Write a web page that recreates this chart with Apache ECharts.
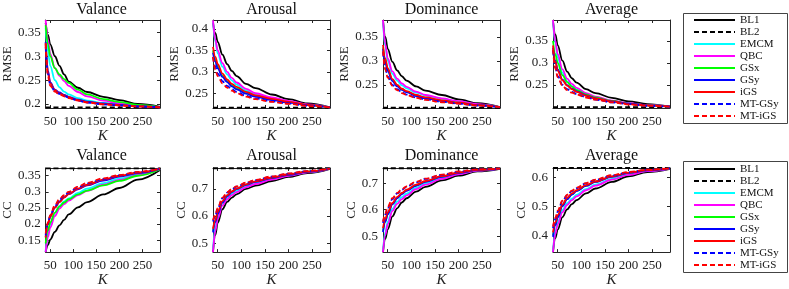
<!DOCTYPE html>
<html><head><meta charset="utf-8">
<script src="https://cdn.jsdelivr.net/npm/echarts@6/dist/echarts.min.js"></script>
<style>html,body{margin:0;padding:0;background:#fff}#c{width:789px;height:289px}</style>
</head><body><div id="c"></div>
<script>
// Number of labelled samples K (x values)
const K = [40, 45, 50, 60, 70, 80, 90, 110, 130, 165, 200, 240, 288];
const xTicks = [50, 100, 150, 200, 250];
const methods = ['BL1', 'BL2', 'EMCM', 'QBC', 'GSx', 'GSy', 'iGS', 'MT-GSy', 'MT-iGS'];
const colors = ['#000000', '#000000', '#00ffff', '#ff00ff', '#00ff00', '#0000ff', '#ff0000', '#0000ff', '#ff0000'];
const dashed = [false, true, false, false, false, false, false, true, true];
const titles = ['Valance', 'Arousal', 'Dominance', 'Average'];

// Each panel: rows in order BL1, EMCM, QBC, GSx, GSy, iGS, MT-GSy, MT-iGS
const valanceRMSE = [
  [0.370, 0.345, 0.325, 0.300, 0.280, 0.262, 0.247, 0.234, 0.225, 0.215, 0.208, 0.200, 0.194],
  [0.360, 0.310, 0.280, 0.250, 0.235, 0.226, 0.220, 0.212, 0.207, 0.202, 0.199, 0.196, 0.193],
  [0.376, 0.335, 0.305, 0.275, 0.259, 0.248, 0.238, 0.225, 0.216, 0.207, 0.201, 0.197, 0.193],
  [0.365, 0.325, 0.300, 0.275, 0.262, 0.252, 0.244, 0.230, 0.220, 0.210, 0.204, 0.198, 0.193],
  [0.330, 0.270, 0.245, 0.230, 0.224, 0.219, 0.215, 0.209, 0.205, 0.201, 0.198, 0.195, 0.193],
  [0.328, 0.265, 0.243, 0.229, 0.222, 0.218, 0.214, 0.208, 0.204, 0.200, 0.197, 0.195, 0.193],
  [0.320, 0.262, 0.240, 0.227, 0.221, 0.217, 0.213, 0.207, 0.203, 0.199, 0.197, 0.195, 0.193],
  [0.325, 0.258, 0.238, 0.226, 0.220, 0.216, 0.212, 0.207, 0.203, 0.199, 0.197, 0.195, 0.193]
];
const arousalRMSE = [
  [0.415, 0.390, 0.370, 0.340, 0.318, 0.302, 0.290, 0.272, 0.262, 0.247, 0.236, 0.226, 0.217],
  [0.418, 0.370, 0.343, 0.312, 0.294, 0.280, 0.270, 0.256, 0.247, 0.238, 0.230, 0.223, 0.217],
  [0.420, 0.375, 0.350, 0.320, 0.300, 0.286, 0.275, 0.260, 0.250, 0.240, 0.232, 0.224, 0.217],
  [0.350, 0.328, 0.312, 0.291, 0.278, 0.268, 0.261, 0.250, 0.243, 0.235, 0.229, 0.222, 0.217],
  [0.345, 0.324, 0.308, 0.288, 0.276, 0.266, 0.259, 0.249, 0.242, 0.234, 0.228, 0.222, 0.217],
  [0.358, 0.335, 0.318, 0.296, 0.282, 0.272, 0.265, 0.253, 0.245, 0.237, 0.230, 0.223, 0.217],
  [0.335, 0.312, 0.296, 0.278, 0.267, 0.259, 0.253, 0.244, 0.238, 0.231, 0.226, 0.221, 0.217],
  [0.335, 0.305, 0.290, 0.273, 0.263, 0.256, 0.250, 0.242, 0.236, 0.230, 0.225, 0.220, 0.217]
];
const dominanceRMSE = [
  [0.385, 0.350, 0.325, 0.298, 0.280, 0.268, 0.259, 0.247, 0.238, 0.229, 0.220, 0.212, 0.204],
  [0.383, 0.330, 0.300, 0.273, 0.259, 0.249, 0.243, 0.234, 0.228, 0.221, 0.215, 0.209, 0.204],
  [0.385, 0.335, 0.305, 0.278, 0.263, 0.253, 0.246, 0.236, 0.229, 0.222, 0.216, 0.210, 0.204],
  [0.328, 0.300, 0.281, 0.260, 0.249, 0.241, 0.236, 0.228, 0.223, 0.217, 0.213, 0.208, 0.204],
  [0.325, 0.297, 0.279, 0.258, 0.247, 0.240, 0.235, 0.227, 0.222, 0.217, 0.212, 0.208, 0.204],
  [0.333, 0.305, 0.285, 0.262, 0.250, 0.242, 0.237, 0.229, 0.224, 0.218, 0.213, 0.208, 0.204],
  [0.318, 0.285, 0.267, 0.250, 0.241, 0.235, 0.230, 0.224, 0.220, 0.215, 0.211, 0.207, 0.204],
  [0.320, 0.282, 0.265, 0.248, 0.239, 0.233, 0.229, 0.223, 0.219, 0.214, 0.211, 0.207, 0.204]
];
const averageRMSE = [
  [0.395, 0.365, 0.340, 0.305, 0.280, 0.265, 0.255, 0.240, 0.231, 0.220, 0.212, 0.206, 0.200],
  [0.396, 0.345, 0.312, 0.278, 0.258, 0.247, 0.239, 0.228, 0.221, 0.213, 0.207, 0.203, 0.200],
  [0.398, 0.350, 0.320, 0.285, 0.264, 0.252, 0.243, 0.231, 0.223, 0.214, 0.208, 0.204, 0.200],
  [0.350, 0.320, 0.300, 0.272, 0.256, 0.246, 0.238, 0.228, 0.221, 0.213, 0.207, 0.203, 0.200],
  [0.335, 0.305, 0.285, 0.262, 0.249, 0.241, 0.235, 0.226, 0.219, 0.212, 0.207, 0.203, 0.200],
  [0.340, 0.303, 0.282, 0.260, 0.248, 0.240, 0.234, 0.225, 0.219, 0.212, 0.206, 0.203, 0.200],
  [0.328, 0.290, 0.270, 0.250, 0.240, 0.234, 0.229, 0.222, 0.216, 0.210, 0.206, 0.202, 0.200],
  [0.330, 0.287, 0.267, 0.248, 0.238, 0.232, 0.228, 0.221, 0.216, 0.210, 0.205, 0.202, 0.200]
];
const valanceCC = [
  [0.113, 0.135, 0.152, 0.176, 0.196, 0.213, 0.230, 0.252, 0.268, 0.292, 0.312, 0.338, 0.368],
  [0.115, 0.170, 0.200, 0.235, 0.256, 0.270, 0.280, 0.297, 0.310, 0.327, 0.341, 0.355, 0.371],
  [0.113, 0.160, 0.190, 0.225, 0.248, 0.262, 0.273, 0.290, 0.303, 0.322, 0.337, 0.352, 0.370],
  [0.140, 0.180, 0.205, 0.235, 0.254, 0.267, 0.277, 0.292, 0.304, 0.320, 0.334, 0.350, 0.370],
  [0.160, 0.200, 0.225, 0.252, 0.270, 0.283, 0.293, 0.308, 0.320, 0.335, 0.347, 0.358, 0.371],
  [0.158, 0.200, 0.222, 0.250, 0.268, 0.282, 0.293, 0.310, 0.322, 0.338, 0.350, 0.360, 0.372],
  [0.165, 0.203, 0.226, 0.255, 0.275, 0.288, 0.298, 0.314, 0.326, 0.340, 0.351, 0.361, 0.372],
  [0.170, 0.205, 0.228, 0.258, 0.278, 0.290, 0.300, 0.316, 0.328, 0.342, 0.352, 0.362, 0.372]
];
const arousalCC = [
  [0.467, 0.530, 0.575, 0.625, 0.652, 0.668, 0.680, 0.700, 0.712, 0.729, 0.744, 0.758, 0.774],
  [0.475, 0.555, 0.600, 0.645, 0.668, 0.682, 0.693, 0.710, 0.721, 0.737, 0.750, 0.762, 0.775],
  [0.467, 0.545, 0.590, 0.638, 0.662, 0.677, 0.688, 0.706, 0.718, 0.734, 0.748, 0.761, 0.775],
  [0.545, 0.580, 0.610, 0.652, 0.675, 0.690, 0.700, 0.716, 0.727, 0.741, 0.753, 0.764, 0.775],
  [0.540, 0.578, 0.608, 0.650, 0.673, 0.688, 0.699, 0.715, 0.726, 0.740, 0.752, 0.763, 0.775],
  [0.553, 0.585, 0.615, 0.655, 0.677, 0.691, 0.701, 0.717, 0.728, 0.742, 0.754, 0.764, 0.775],
  [0.580, 0.602, 0.628, 0.665, 0.686, 0.699, 0.708, 0.722, 0.732, 0.745, 0.756, 0.765, 0.775],
  [0.585, 0.605, 0.630, 0.668, 0.688, 0.700, 0.709, 0.723, 0.733, 0.746, 0.757, 0.766, 0.775]
];
const dominanceCC = [
  [0.440, 0.490, 0.525, 0.575, 0.605, 0.627, 0.643, 0.668, 0.686, 0.710, 0.728, 0.744, 0.754],
  [0.445, 0.515, 0.555, 0.603, 0.630, 0.647, 0.660, 0.682, 0.698, 0.719, 0.735, 0.748, 0.755],
  [0.440, 0.505, 0.545, 0.595, 0.622, 0.640, 0.654, 0.677, 0.694, 0.716, 0.733, 0.747, 0.755],
  [0.520, 0.558, 0.585, 0.622, 0.645, 0.661, 0.673, 0.692, 0.706, 0.725, 0.739, 0.750, 0.755],
  [0.515, 0.554, 0.582, 0.620, 0.643, 0.659, 0.671, 0.690, 0.705, 0.724, 0.738, 0.749, 0.755],
  [0.530, 0.565, 0.590, 0.625, 0.648, 0.663, 0.675, 0.694, 0.708, 0.726, 0.740, 0.750, 0.755],
  [0.550, 0.582, 0.607, 0.640, 0.661, 0.675, 0.686, 0.703, 0.716, 0.731, 0.743, 0.752, 0.755],
  [0.555, 0.585, 0.610, 0.643, 0.663, 0.677, 0.688, 0.705, 0.717, 0.732, 0.744, 0.752, 0.755]
];
const averageCC = [
  [0.342, 0.390, 0.420, 0.463, 0.490, 0.508, 0.522, 0.545, 0.562, 0.585, 0.604, 0.619, 0.630],
  [0.345, 0.412, 0.445, 0.487, 0.511, 0.527, 0.540, 0.560, 0.575, 0.595, 0.611, 0.623, 0.631],
  [0.342, 0.405, 0.438, 0.480, 0.505, 0.522, 0.535, 0.556, 0.572, 0.593, 0.609, 0.622, 0.631],
  [0.400, 0.438, 0.465, 0.503, 0.527, 0.542, 0.554, 0.572, 0.586, 0.603, 0.616, 0.626, 0.632],
  [0.395, 0.435, 0.462, 0.501, 0.525, 0.541, 0.553, 0.571, 0.585, 0.602, 0.616, 0.625, 0.632],
  [0.410, 0.445, 0.470, 0.507, 0.530, 0.545, 0.556, 0.574, 0.587, 0.604, 0.617, 0.626, 0.632],
  [0.425, 0.457, 0.482, 0.518, 0.539, 0.553, 0.563, 0.580, 0.592, 0.607, 0.618, 0.627, 0.632],
  [0.430, 0.460, 0.485, 0.520, 0.541, 0.555, 0.565, 0.581, 0.593, 0.608, 0.619, 0.627, 0.632]
];
// BL2 constant baseline per panel
const bl2 = [0.193, 0.2165, 0.2025, 0.199, 0.373, 0.776, 0.756, 0.633];
const yMin = [0.1915, 0.2155, 0.202, 0.197, 0.113, 0.467, 0.44, 0.342];
const yMax = [0.376, 0.421, 0.385, 0.398, 0.374, 0.777, 0.757, 0.633];
const yTicks = [
  [0.2, 0.25, 0.3, 0.35], [0.25, 0.3, 0.35, 0.4], [0.25, 0.3, 0.35], [0.25, 0.3, 0.35],
  [0.15, 0.2, 0.25, 0.3, 0.35], [0.5, 0.6, 0.7], [0.5, 0.6, 0.7], [0.4, 0.5, 0.6]
];
const yNames = ['RMSE', 'RMSE', 'RMSE', 'RMSE', 'CC', 'CC', 'CC', 'CC'];
const panelData = [valanceRMSE, arousalRMSE, dominanceRMSE, averageRMSE, valanceCC, arousalCC, dominanceCC, averageCC];

// layout
const colLeft = [43, 213, 383, 553];
const plotW = 117;
const rowTop = [20, 168];
const rowH = [88, 89];
const nameGaps = [29.5, 29.5, 29.5, 28.5, 28.5, 23.5, 23.5, 21.5];
const FONT = '"Liberation Serif", "Times New Roman", serif';
const AX = '#262626';
const fmt = v => String(+(+v).toFixed(4));

const grid = [], xAxis = [], yAxis = [], series = [], graphic = [];
for (let p = 0; p < 8; p++) {
  const c = p % 4, r = Math.floor(p / 4);
  grid.push({left: colLeft[c], top: rowTop[r], width: plotW, height: rowH[r], containLabel: false});
  const lineS = {show: true, lineStyle: {color: AX, width: 1}};
  const tickS = {show: true, inside: true, length: 3, customValues: xTicks, lineStyle: {color: AX, width: 1}};
  xAxis.push({
    gridIndex: p, type: 'value', min: 40, max: 288, position: 'bottom',
    axisLine: lineS, axisTick: tickS, splitLine: {show: false},
    axisLabel: {customValues: xTicks, margin: 7, fontFamily: FONT, fontSize: 13, color: '#222', formatter: fmt},
    name: 'K', nameLocation: 'middle', nameGap: 19,
    nameTextStyle: {fontFamily: FONT, fontStyle: 'italic', fontSize: 15, color: '#222'}
  });
  xAxis.push({
    gridIndex: p, type: 'value', min: 40, max: 288, position: 'top',
    axisLine: lineS, axisTick: tickS, axisLabel: {show: false}, splitLine: {show: false}
  });
  const yTickS = {show: true, inside: true, length: 3, customValues: yTicks[p], lineStyle: {color: AX, width: 1}};
  yAxis.push({
    gridIndex: p, type: 'value', min: yMin[p], max: yMax[p], position: 'left',
    axisLine: lineS, axisTick: yTickS, splitLine: {show: false},
    axisLabel: {customValues: yTicks[p], margin: 5, fontFamily: FONT, fontSize: 13, color: '#222', formatter: fmt},
    name: yNames[p], nameLocation: 'middle', nameGap: nameGaps[p], nameRotate: 90,
    nameTextStyle: {fontFamily: FONT, fontSize: 13, color: '#222'}
  });
  yAxis.push({
    gridIndex: p, type: 'value', min: yMin[p], max: yMax[p], position: 'right',
    axisLine: lineS, axisTick: yTickS, axisLabel: {show: false}, splitLine: {show: false}
  });
  let row = 0;
  methods.forEach((m, mi) => {
    let data;
    if (m === 'BL2') {
      data = [[K[0], bl2[p]], [K[K.length - 1], bl2[p]]];
    } else {
      const vals = panelData[p][row++];
      data = K.map((k, j) => [k, vals[j]]);
    }
    series.push({
      name: m, type: 'line', xAxisIndex: 2 * p, yAxisIndex: 2 * p,
      data, symbol: 'none', smooth: 0.35, smoothMonotone: 'x', animation: false,
      color: colors[mi],
      itemStyle: {color: colors[mi], opacity: 0},
      lineStyle: {color: colors[mi], width: 1.8, type: dashed[mi] ? [5, 3] : 'solid'}
    });
  });
  graphic.push({
    type: 'text', x: colLeft[c] + plotW / 2, y: r === 0 ? 10 : 156,
    style: {text: titles[c], font: '16px ' + FONT, fill: '#111', align: 'center', verticalAlign: 'middle'}
  });
}
// legend boxes
graphic.push({type: 'rect', shape: {x: 683.5, y: 13.5, width: 104, height: 110}, style: {fill: 'none', stroke: '#444', lineWidth: 1}});
graphic.push({type: 'rect', shape: {x: 683.5, y: 161.5, width: 104, height: 111}, style: {fill: 'none', stroke: '#444', lineWidth: 1}});

const legendBase = {
  orient: 'vertical', left: 693, padding: 0, itemWidth: 41, itemHeight: 12, itemGap: 0,
  data: methods, selectedMode: false,
  itemStyle: {opacity: 0, borderWidth: 0},
  lineStyle: {width: 2},
  textStyle: {fontFamily: FONT, fontSize: 11, color: '#111', lineHeight: 12}
};
const option = {
  animation: false,
  backgroundColor: '#ffffff',
  grid, xAxis, yAxis, series, graphic,
  legend: [
    Object.assign({}, legendBase, {top: 14}),
    Object.assign({}, legendBase, {top: 163})
  ]
};
const chart = echarts.init(document.getElementById('c'), null, {renderer: 'canvas'});
chart.setOption(option);
</script></body></html>
